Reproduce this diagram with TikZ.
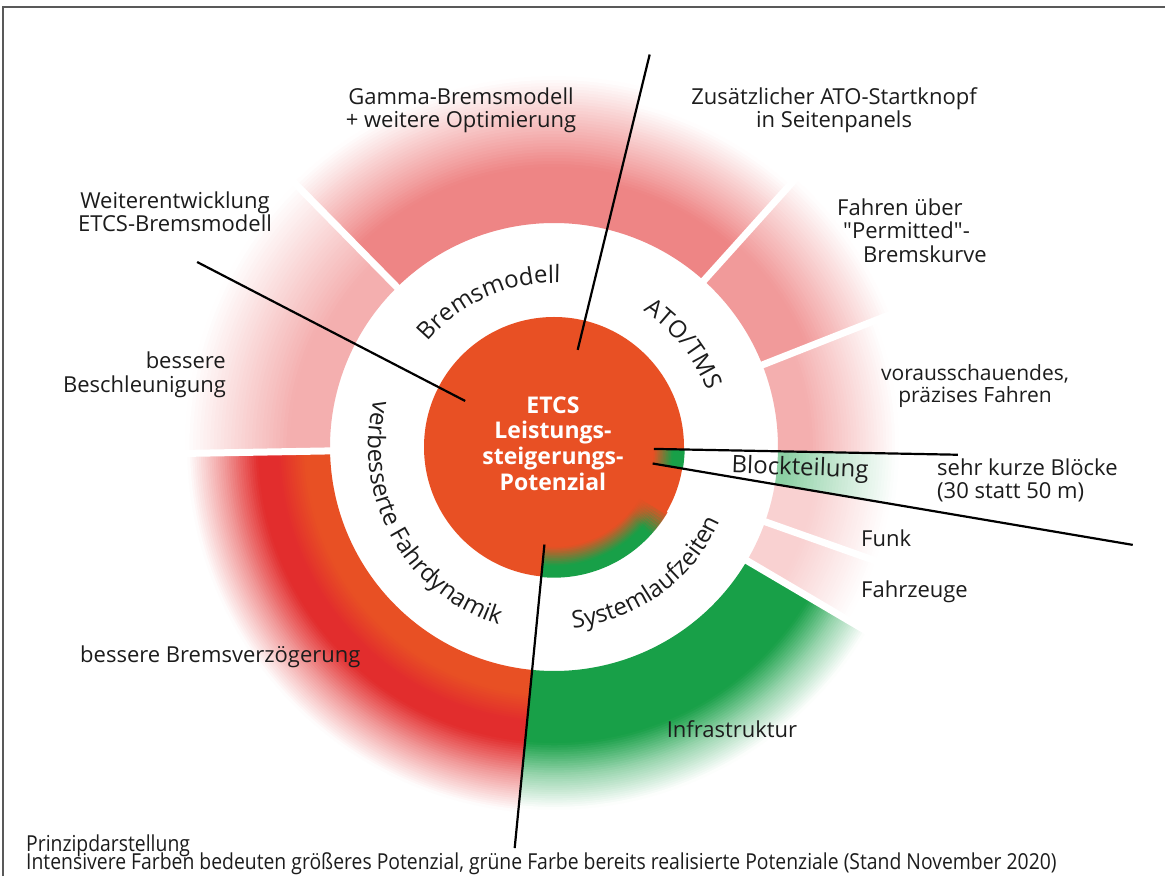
\documentclass[tikz,border=0pt]{standalone}
\usepackage{fontspec}
\setmainfont{Open Sans}
\newfontfamily\capfamily[FakeStretch=0.88]{Open Sans}
\usetikzlibrary{decorations.text,calc}

\definecolor{etcsorange}{RGB}{232,80,36}
\definecolor{etcsred}{RGB}{226,45,45}
\definecolor{etcsgreen}{RGB}{24,160,72}
\definecolor{textdark}{RGB}{28,28,28}
\colorlet{pinkA}{etcsred!58!white}
\colorlet{pinkB}{etcsred!48!white}
\colorlet{pinkC}{etcsred!38!white}
\colorlet{pinkD}{etcsred!22!white}
\colorlet{greenA}{etcsgreen!50!white}
\colorlet{greenB}{etcsgreen!30!white}
\colorlet{greenC}{etcsgreen!45!white}
\colorlet{redfade}{etcsred!45!white}

\newcommand{\lblfont}{\fontsize{22pt}{23.5pt}\selectfont}
\newcommand{\ringfont}{\fontsize{24pt}{26pt}\selectfont}
\newcommand{\corefont}{\fontsize{23pt}{25.7pt}\selectfont\bfseries}
\newcommand{\capfont}{\capfamily\fontsize{22pt}{18pt}\selectfont}
\newcommand{\sq}{\XeTeXglyph\XeTeXcharglyph"22\relax}

% radial colour band: #1 colour at r1, #2 colour at r2, #3/#4 angles, #5 r1, #6 r2, #7 steps
\newcommand{\gradband}[7]{%
  \foreach \k in {1,...,#7}{%
    \pgfmathsetmacro{\ra}{#5+(#6-#5)*(\k-1)/#7}%
    \pgfmathsetmacro{\rb}{#5+(#6-#5)*\k/#7+0.7}%
    \pgfmathsetmacro{\pp}{100-100*(\k-0.5)/#7}%
    \fill[#1!\pp!#2] ($(C)+(#3:\ra)$) arc[start angle=#3, end angle=#4, radius=\ra]
      -- ($(C)+(#4:\rb)$) arc[start angle=#4, end angle=#3, radius=\rb] -- cycle;
  }}
% sector: colour #1, angles #2..#3, solid up to #4, fading to white at #5
\newcommand{\fadesector}[5]{%
  \gradband{#1}{#1}{#2}{#3}{224}{#4}{1}%
  \gradband{#1}{white}{#2}{#3}{#4}{#5}{30}}

\begin{document}
\begin{tikzpicture}[x=1pt,y=1pt,
  lbl/.style={font=\lblfont, align=center, inner sep=0pt, text=textdark},
  caplbl/.style={font=\capfont, inner sep=0pt, text=textdark},
  blackline/.style={line width=2.2pt, black},
  sepline/.style={line width=7pt, white},
  ringtext/.style={decorate, decoration={text along path, text align=center, text color=textdark}}]
\useasboundingbox (0,0) rectangle (1165,876);
\fill[white] (0,0) rectangle (1165,876);
\draw[black!65, line width=1.2pt] (3,0) -- (3,869) -- (1165,869);
\coordinate (C) at (554,429);

% outer sectors
\fadesector{pinkC}{134.5}{152.6}{256}{368}
\fadesector{pinkA}{76.3}{134.5}{280}{370}
\fadesector{pinkA}{48}{76.3}{268}{352}
\fadesector{pinkB}{21.5}{48}{272}{360}
\fadesector{pinkC}{-1.1}{21.5}{256}{344}
\fadesector{pinkD}{-19.5}{-9.5}{264}{340}
\fadesector{pinkD}{-30.5}{-19.5}{264}{340}
\fadesector{pinkC}{152.6}{181}{264}{368}
% Blockteilung (green, pale)
\gradband{greenA}{greenA}{-9.5}{-1.1}{224}{232}{1}
\gradband{greenA}{greenB}{-9.5}{-1.1}{232}{272}{12}
\gradband{greenB}{white}{-9.5}{-1.1}{272}{344}{24}
% Infrastruktur
\gradband{etcsgreen}{etcsgreen}{-95.6}{-30.5}{224}{296}{1}
\gradband{etcsgreen}{greenC}{-95.6}{-30.5}{296}{328}{14}
\gradband{greenC}{white}{-95.6}{-30.5}{328}{362}{16}
% bessere Bremsverzoegerung
\gradband{etcsorange}{etcsorange}{181}{264.4}{224}{248}{1}
\gradband{etcsorange}{etcsred}{181}{264.4}{248}{276}{12}
\gradband{etcsred}{etcsred}{181}{264.4}{276}{296}{1}
\gradband{etcsred}{redfade}{181}{264.4}{296}{332}{16}
\gradband{redfade}{white}{181}{264.4}{332}{366}{16}

% white separators
\foreach \a in {134.5,48,21.5,-19.5,-30.5,181}
  \draw[sepline] ($(C)+(\a:221)$) -- ($(C)+(\a:372)$);

% core circle with green bands
\fill[etcsorange] (C) circle[radius=130];
\gradband{etcsorange}{etcsgreen}{-95.6}{-31}{100}{119}{12}
\gradband{etcsgreen}{etcsgreen}{-95.6}{-31}{119}{130}{1}
\gradband{etcsorange}{etcsgreen}{-9.5}{-1.1}{100}{119}{12}
\gradband{etcsgreen}{etcsgreen}{-9.5}{-1.1}{119}{130}{1}
\foreach \j in {0,...,9}{%
  \pgfmathsetmacro{\oa}{-42+\j*1.2}%
  \pgfmathsetmacro{\ob}{\oa+1.3}%
  \pgfmathsetmacro{\op}{(\j+0.5)/10}%
  \fill[etcsorange, opacity=\op] (C) -- ($(C)+(\oa:131)$) arc[start angle=\oa, end angle=\ob, radius=131] -- cycle;
}
\node[font=\corefont, text=white, align=center, inner sep=0pt] (core) at (553,432.5)
  {ETCS\\Leistungs-\\steigerungs-\\Potenzial};

% ring texts
\path[ringtext, decoration={text={|\ringfont|Bremsmodell}}]
  ($(C)+(150:164)$) arc[start angle=150, end angle=78, radius=164];
\path[ringtext, decoration={text={|\ringfont|ATO/TMS}}]
  ($(C)+(70:163)$) arc[start angle=70, end angle=7, radius=163];
\path[ringtext, decoration={text={|\ringfont|verbesserte Fahrdynamik}}]
  ($(C)+(150:186)$) arc[start angle=150, end angle=268, radius=186];
\path[ringtext, decoration={text={|\ringfont|Systemlaufzeiten}}]
  ($(C)+(-101:182)$) arc[start angle=-101, end angle=-7, radius=182];
\node[font=\ringfont, text=textdark, rotate=-2, inner sep=0pt] (block) at (800,407) {Blockteilung};

% outer labels
\node[lbl] (gamma) at (461,765.5) {Gamma-Bremsmodell\\+ weitere Optimierung};
\node[lbl] (zus) at (834,766) {Zusätzlicher ATO-Startknopf\\in Seitenpanels};
\node[lbl] (weiter) at (175,664) {Weiterentwicklung\\ETCS-Bremsmodell};
\node[lbl, align=left, anchor=west] (fahren) at (837,645.5)
  {Fahren über\\\hspace*{6pt}\sq Permitted\sq-\\\hspace*{26pt}Bremskurve};
\node[lbl, font=\fontsize{21pt}{22.5pt}\selectfont] (voraus) at (975,490) {vorausschauendes,\\präzises Fahren};
\node[lbl, align=left, anchor=west] (kurz) at (937,395.5) {sehr kurze Blöcke\\(30 statt 50 m)};
\node[lbl, anchor=west] (funk) at (861,338) {Funk};
\node[lbl, anchor=west] (fahrz) at (861,284) {Fahrzeuge};
\node[lbl] (infra) at (732,147) {Infrastruktur};
\node[lbl, anchor=west] (bremsv) at (80,219) {bessere Bremsverzögerung};
\node[lbl, align=right, anchor=east] (beschl) at (226,501) {bessere\\Beschleunigung};

% caption
\node[caplbl, anchor=base west] (cap1) at (26,25) {Prinzipdarstellung};
\node[caplbl, anchor=base west] (cap2) at (26,7)
  {Intensivere Farben bedeuten größeres Potenzial, grüne Farbe bereits realisierte Potenziale (Stand November 2020)};

% black divider lines
\coordinate (a1) at ($(C)+(76.3:100)$);  \coordinate (b1) at ($(C)+(76.3:404)$);
\coordinate (a2) at ($(C)+(152.6:100)$); \coordinate (b2) at ($(C)+(152.6:402)$);
\coordinate (a3) at ($(C)+(-1.1:100)$);  \coordinate (b3) at ($(C)+(-1.1:404)$);
\coordinate (a4) at ($(C)+(-9.5:100)$);  \coordinate (b4) at ($(C)+(-9.6:587)$);
\coordinate (a5) at ($(C)+(264.4:98)$);  \coordinate (b5) at ($(C)+(264.4:403)$);
\foreach \i in {1,...,5} \draw[blackline] (a\i) -- (b\i);
\end{tikzpicture}
\end{document}
